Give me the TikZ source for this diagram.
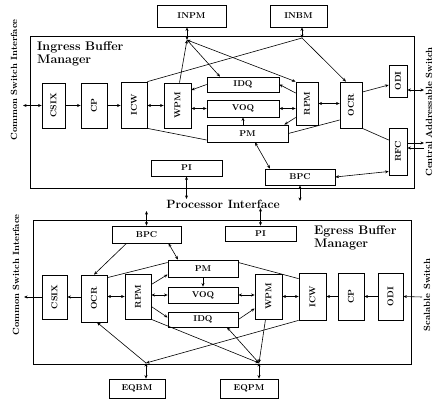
\documentclass[tikz,border=0pt]{standalone}
\usetikzlibrary{arrows.meta,calc}
\begin{document}
\begin{tikzpicture}[x=1pt,y=-1pt,
  box/.style={draw,line width=0.7pt,inner sep=0pt,font=\fontsize{8.5}{9}\selectfont\bfseries},
  vbox/.style={box,rotate=90},
  ln/.style={line width=0.6pt},
  ar/.style={ln,-{Stealth[length=3.6pt,width=3pt]}},
  dar/.style={ln,{Stealth[length=3.6pt,width=3pt]}-{Stealth[length=3.6pt,width=3pt]}},
  frame/.style={line width=0.8pt},
  title/.style={font=\fontsize{12.5}{13}\selectfont\bfseries,align=left,inner sep=0pt},
  side/.style={font=\fontsize{9}{10}\selectfont\bfseries,rotate=90,inner sep=0pt}]
\useasboundingbox (0,0) rectangle (433,401);

% ================= Ingress =================
\draw[frame] (30,36) rectangle (414,188);
\node[title,anchor=north west] (ttl1) at (37,42) {Ingress Buffer\\Manager};
\node[box,minimum width=69pt,minimum height=22pt] (INPM) at (191.5,16) {INPM};
\node[box,minimum width=57pt,minimum height=22pt] (INBM) at (298.5,16) {INBM};
\node[vbox,minimum width=45pt,minimum height=23pt] (CSIX1) at (53.5,105.5) {CSIX};
\node[vbox,minimum width=45pt,minimum height=26pt] (CP1) at (94,105.5) {CP};
\node[vbox,minimum width=46pt,minimum height=26pt] (ICW1) at (134,105) {ICW};
\node[vbox,minimum width=45pt,minimum height=27pt] (WPM1) at (177.5,105.5) {WPM};
\node[box,minimum width=72pt,minimum height=15pt] (IDQ1) at (243,84.5) {IDQ};
\node[box,minimum width=72pt,minimum height=17pt] (VOQ1) at (243,108.5) {VOQ};
\node[box,minimum width=81pt,minimum height=17pt] (PM1) at (247.5,133.5) {PM};
\node[vbox,minimum width=43pt,minimum height=22pt] (RPM1) at (307,103.5) {RPM};
\node[vbox,minimum width=46pt,minimum height=22pt] (OCR1) at (351,105) {OCR};
\node[vbox,minimum width=32pt,minimum height=18pt] (ODI1) at (398,81) {ODI};
\node[vbox,minimum width=47pt,minimum height=18pt] (RFC1) at (398,151.5) {RFC};
\node[box,minimum width=71pt,minimum height=16pt] (PI1) at (186.5,168) {PI};
\node[box,minimum width=70pt,minimum height=16pt] (BPC1) at (300,177) {BPC};

\coordinate (J1) at (187,40);
\coordinate (J2) at (302,38);
\coordinate (L1) at (23,105.5);
\coordinate (PIo1) at (186.5,199);
\coordinate (BPCo1) at (300,201);
\coordinate (R1a) at (424,90);
\coordinate (R1b) at (424,143);
\coordinate (R1c) at (424,148);

\draw[dar] (L1) -- (CSIX1.north);
\draw[ar] (CSIX1.south) -- (CP1.north);
\draw[ar] (CP1.south) -- (ICW1.north |- CP1.south);
\draw[dar] (ICW1.south |- WPM1.north) -- (WPM1.north);
\draw[ar] (IDQ1.west) -- ([yshift=15.5pt]WPM1.center -| WPM1.south);
\draw[dar] (VOQ1.west -| WPM1.south) -- (VOQ1.west);
\draw[dar] (VOQ1.east) -- (VOQ1.east -| RPM1.north);
\draw[ar] ([yshift=10.5pt]RPM1.north) -- (IDQ1.east);
\draw[ar] ([yshift=-14pt]RPM1.north) -- ([xshift=-4pt]PM1.north east);
\draw[ar] (VOQ1.south |- PM1.north) -- (VOQ1.south);
\draw[ln] (PM1.east) -- ([yshift=-15pt]OCR1.north);
\draw[ln] (ICW1.south west) -- ([yshift=-6.5pt]PM1.west);
\draw[ln] (ICW1.south east) -- (J2);
\draw[ar] ([xshift=2pt]WPM1.east) -- (J1);
\draw[ar] (J1) -- ([xshift=-23pt]IDQ1.north);
\draw[dar] (J1) -- (RPM1.north east);
\draw[dar] (INPM.south -| J1) -- (J1);
\draw[dar] (INBM.south -| J2) -- (J2);
\draw[ar] (J2) -- ([xshift=-5pt]OCR1.east);
\draw[dar] (RPM1.south) -- (RPM1.south -| OCR1.north);
\draw[ar] ([yshift=13pt]OCR1.south) -- ([yshift=-4pt]ODI1.north);
\draw[ln] (OCR1.south west) -- ([yshift=11.5pt]RFC1.north);
\draw[dar] (BPC1.east) -- ([yshift=-20pt]RFC1.north);
\draw[dar] ([xshift=7.5pt]PM1.south) -- ([xshift=-30pt]BPC1.north);
\draw[dar] (PI1.south) -- (PIo1);
\draw[dar] (BPC1.south) -- (BPCo1);
\draw[dar] ([yshift=-9pt]ODI1.south) -- (R1a);
\draw[ar] ([yshift=8.5pt]RFC1.south) -- (R1b);
\draw[ar] (R1c) -- ([yshift=3.5pt]RFC1.south);

\node[side] (sl1) at (14,80) {Common Switch Interface};
\node[side] (sr1) at (429,112) {Central Addressable Switch};

\node[font=\fontsize{12}{12.5}\selectfont\bfseries,inner sep=0pt] (proc) at (223,204) {Processor Interface};

% ================= Egress =================
\draw[frame] (33,220) rectangle (411,364);
\node[title,anchor=north west] (ttl2) at (314,226) {Egress Buffer\\Manager};
\node[box,minimum width=69pt,minimum height=17pt] (BPC2) at (146.5,234.5) {BPC};
\node[box,minimum width=71pt,minimum height=15pt] (PI2) at (260.5,233.5) {PI};
\node[vbox,minimum width=44pt,minimum height=25pt] (CSIX2) at (54.5,297) {CSIX};
\node[vbox,minimum width=47pt,minimum height=26pt] (OCR2) at (94,298.5) {OCR};
\node[vbox,minimum width=45pt,minimum height=26pt] (RPM2) at (138,296.5) {RPM};
\node[box,minimum width=70pt,minimum height=17pt] (PM2) at (203,268.5) {PM};
\node[box,minimum width=70pt,minimum height=16pt] (VOQ2) at (203,295) {VOQ};
\node[box,minimum width=70pt,minimum height=15pt] (IDQ2) at (203,319.5) {IDQ};
\node[vbox,minimum width=45pt,minimum height=27pt] (WPM2) at (268.5,296.5) {WPM};
\node[vbox,minimum width=47pt,minimum height=27pt] (ICW2) at (312.5,296.5) {ICW};
\node[vbox,minimum width=47pt,minimum height=26pt] (CP2) at (351,296.5) {CP};
\node[vbox,minimum width=47pt,minimum height=25pt] (ODI2) at (390.5,296.5) {ODI};
\node[box,minimum width=56pt,minimum height=19pt] (EQBM) at (137,388.5) {EQBM};
\node[box,minimum width=58pt,minimum height=19pt] (EQPM) at (249,388.5) {EQPM};

\coordinate (J3) at (146,363);
\coordinate (J4) at (259,363);
\coordinate (L2) at (24,297);
\coordinate (R2) at (422,297);
\coordinate (BPCo2) at (146.5,211);
\coordinate (PIo2) at (260.5,208);

\draw[ar] (CSIX2.north) -- (L2);
\draw[ar] (OCR2.north |- CSIX2.south) -- (CSIX2.south);
\draw[dar] (OCR2.south |- RPM2.north) -- (RPM2.north);
\draw[ar] ([yshift=12pt]RPM2.south) -- ([yshift=-6pt]PM2.west);
\draw[dar] (VOQ2.west -| RPM2.south) -- (VOQ2.west);
\draw[ar] ([yshift=-10pt]RPM2.south) -- ([yshift=2pt]IDQ2.west);
\draw[ar] (PM2.south) -- (VOQ2.north);
\draw[dar] (VOQ2.east) -- (VOQ2.east -| WPM2.north);
\draw[ar] (IDQ2.east) -- ([yshift=-12pt]WPM2.north);
\draw[ln] ([yshift=6pt]PM2.east) -- ([yshift=-6pt]ICW2.north east);
\draw[ln] ([yshift=-3pt]OCR2.south east) -- ([yshift=6pt]PM2.west);
\draw[ar] ([xshift=-20pt]BPC2.south) -- (OCR2.east);
\draw[dar] ([xshift=22pt]BPC2.south) -- ([xshift=-25pt]PM2.north);
\draw[dar] (BPC2.north) -- (BPCo2);
\draw[dar] (PI2.north) -- (PIo2);
\draw[dar] (WPM2.south |- ICW2.north) -- (ICW2.north);
\draw[ar] (CP2.north) -- (CP2.north -| ICW2.south);
\draw[ar] (ODI2.north) -- (ODI2.north -| CP2.south);
\draw[ar] (R2) -- (ODI2.south);
\draw[ar] ([xshift=-3pt]WPM2.west) -- (J4);
\draw[ar] (ICW2.north west) -- (J3);
\draw[ar] (J3) -- ([xshift=3pt]OCR2.west);
\draw[ar] (RPM2.south west) -- (J4);
\draw[dar] (J4) -- ([xshift=24pt]IDQ2.south);
\draw[dar] (J3) -- (EQBM.north -| J3);
\draw[dar] (J4) -- (EQPM.north -| J4);

\node[side] (sl2) at (16,275) {Common Switch Interface};
\node[side] (sr2) at (427,295) {Scalable Switch};
\end{tikzpicture}
\end{document}
